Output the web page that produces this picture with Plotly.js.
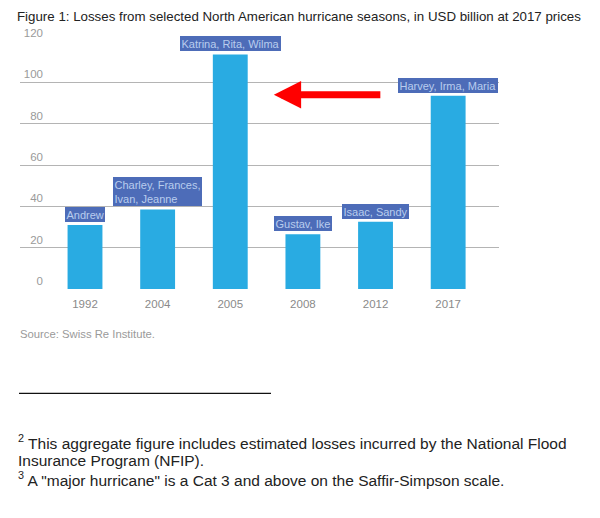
<!DOCTYPE html>
<html>
<head>
<meta charset="utf-8">
<script src="https://cdn.plot.ly/plotly-3.0.1.min.js"></script>
<style>html,body{margin:0;padding:0;background:#fff;}#chart{width:600px;height:518px;}</style>
</head>
<body>
<div id="chart"></div>
<script>
// ---- data ----
var years = ['1992', '2004', '2005', '2008', '2012', '2017'];
var losses = [31, 38.5, 113.5, 26.5, 32.5, 93.5];
var hurricaneNames = ['Andrew', 'Charley, Frances,<br>Ivan, Jeanne', 'Katrina, Rita, Wilma', 'Gustav, Ike', 'Isaac, Sandy', 'Harvey, Irma, Maria'];
var yTicks = [0, 20, 40, 60, 80, 100, 120];
var titleText = 'Figure 1: Losses from selected North American hurricane seasons, in USD billion at 2017 prices';
var sourceText = 'Source: Swiss Re Institute.';
var footnotes = [
  '<sup>2</sup> This aggregate figure includes estimated losses incurred by the National Flood',
  'Insurance Program (NFIP).',
  '<sup>3</sup> A "major hurricane" is a Cat 3 and above on the Saffir-Simpson scale.'
];

// ---- layout geometry (pixels) ----
var W = 600, H = 518;
var L = 20, R = 499, T = 40.7, B = 289.5;
function px(x) { return (x - L) / (R - L); }
function py(y) { return (B - y) / (B - T); }

var FONT = '"Liberation Sans", Arial, Helvetica, sans-serif';

var trace = {
  type: 'bar',
  x: years.map(function (d, i) { return i; }),
  y: losses,
  width: 0.48,
  marker: { color: '#29abe2' },
  hoverinfo: 'none'
};

var annotations = hurricaneNames.map(function (name, i) {
  return {
    x: i, y: losses[i], xref: 'x', yref: 'y',
    text: name, showarrow: false,
    yanchor: 'bottom', xanchor: 'center', yshift: 3,
    bgcolor: '#4d6cb8', borderpad: 1.5, borderwidth: 0,
    align: 'left',
    font: { family: FONT, size: 11, color: '#b9cdee' }
  };
});

// red arrow
annotations.push({
  x: 2.6, y: 94, xref: 'x', yref: 'y',
  ax: 108, ay: 0, axref: 'pixel', ayref: 'pixel',
  text: '', showarrow: true,
  arrowhead: 2, arrowsize: 0.78, arrowwidth: 7, arrowcolor: '#ff0000'
});

// source
annotations.push({
  x: px(18), y: py(335), xref: 'paper', yref: 'paper',
  xanchor: 'left', yanchor: 'middle', showarrow: false,
  text: sourceText,
  font: { family: FONT, size: 11.3, color: '#9a9a9a' }
});

var footY = [442.7, 462, 480.5];
footnotes.forEach(function (t, i) {
  annotations.push({
    x: px(16), y: py(footY[i]), xref: 'paper', yref: 'paper',
    xanchor: 'left', yanchor: 'middle', showarrow: false,
    text: t,
    font: { family: FONT, size: 15.5, color: '#222222' }
  });
});

var layout = {
  width: W, height: H,
  margin: { l: L, r: W - R, t: T, b: H - B, pad: 0 },
  paper_bgcolor: '#ffffff',
  plot_bgcolor: '#ffffff',
  showlegend: false,
  title: {
    text: titleText,
    x: 17 / W, xanchor: 'left', xref: 'container',
    y: 1 - 16 / H, yanchor: 'middle', yref: 'container',
    font: { family: FONT, size: 13.3, color: '#222222' }
  },
  xaxis: {
    type: 'linear',
    range: [-0.895, 5.70],
    tickmode: 'array',
    tickvals: years.map(function (d, i) { return i; }),
    ticktext: years,
    showgrid: false, zeroline: false, showline: false,
    ticks: '',
    ticklabelstandoff: 6,
    tickfont: { family: FONT, size: 11.5, color: '#8a8a8a' },
    fixedrange: true
  },
  yaxis: {
    range: [0, 120],
    tickmode: 'array',
    tickvals: yTicks,
    ticktext: yTicks.map(String),
    showgrid: true, gridcolor: '#b4b4b4', gridwidth: 1,
    zeroline: false, showline: false,
    ticks: '',
    ticklabelposition: 'outside top',
    ticklabelstandoff: -24,
    tickfont: { family: FONT, size: 11.5, color: '#9a9a9a' },
    fixedrange: true
  },
  shapes: [
    {
      type: 'line', xref: 'paper', yref: 'paper',
      x0: px(19), x1: px(271), y0: py(394.3), y1: py(394.3),
      line: { color: '#111111', width: 1.3 }
    }
  ],
  annotations: annotations
};

Plotly.newPlot('chart', [trace], layout, { displayModeBar: false, staticPlot: true });
</script>
</body>
</html>
